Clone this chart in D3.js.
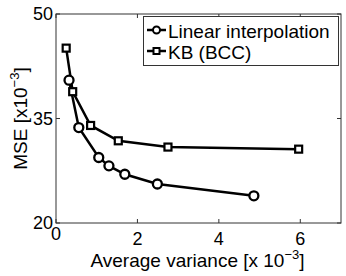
<!DOCTYPE html>
<html>
<head>
<meta charset="utf-8">
<script src="https://cdn.jsdelivr.net/npm/d3@7"></script>
<style>
  body { margin: 0; background: #fff; }
  svg { display: block; font-family: "Liberation Sans", Arial, sans-serif; }
</style>
</head>
<body>
<div id="container"></div>
<script>
// values (x in 1e-3, y in 1e-3)
var linX = [0.32, 0.56, 1.05, 1.30, 1.69, 2.49, 4.86];
var linY = [40.5, 33.7, 29.4, 28.2, 27.0, 25.6, 23.9];
var kbX = [0.25, 0.41, 0.85, 1.53, 2.75, 5.96];
var kbY = [45.1, 38.85, 34.0, 31.8, 30.9, 30.6];
var xTicks = [0, 2, 4, 6];
var yTicks = [20, 35, 50];
var seriesNames = ["Linear interpolation", "KB (BCC)"];

var width = 346, height = 276;
var margin = {left: 56, right: 5, top: 14, bottom: 53};

var svg = d3.select("#container").append("svg")
    .attr("width", width)
    .attr("height", height);

var x = d3.scaleLinear().domain([0, 7]).range([margin.left, width - margin.right]);
var y = d3.scaleLinear().domain([20, 50]).range([height - margin.bottom, margin.top]);

// box
svg.append("rect")
    .attr("x", x(0)).attr("y", y(50))
    .attr("width", x(7) - x(0)).attr("height", y(20) - y(50))
    .attr("fill", "none").attr("stroke", "#333").attr("stroke-width", 1);

// ticks (inside, mirrored)
var tk = 4;
var tickG = svg.append("g").attr("stroke", "#333").attr("stroke-width", 1);
xTicks.forEach(function (t) {
    tickG.append("line").attr("x1", x(t)).attr("x2", x(t)).attr("y1", y(20)).attr("y2", y(20) - tk);
    tickG.append("line").attr("x1", x(t)).attr("x2", x(t)).attr("y1", y(50)).attr("y2", y(50) + tk);
});
yTicks.forEach(function (t) {
    tickG.append("line").attr("x1", x(0)).attr("x2", x(0) + tk).attr("y1", y(t)).attr("y2", y(t));
    tickG.append("line").attr("x1", x(7)).attr("x2", x(7) - tk).attr("y1", y(t)).attr("y2", y(t));
});

svg.append("g").selectAll("text")
    .data(xTicks)
    .join("text")
    .attr("x", d => x(d))
    .attr("y", d => d == 0 ? 240 : 245)
    .attr("text-anchor", "middle")
    .attr("font-size", 18)
    .text(d => d);

svg.append("g").selectAll("text")
    .data(yTicks)
    .join("text")
    .attr("x", x(0) - 3)
    .attr("y", d => y(d) + 6)
    .attr("text-anchor", "end")
    .attr("font-size", 18)
    .text(d => d);

// axis labels
var xl = svg.append("text")
    .attr("x", (x(0) + x(7)) / 2 - 1)
    .attr("y", 267)
    .attr("text-anchor", "middle")
    .attr("font-size", 19);
xl.append("tspan").text("Average variance [x 10");
xl.append("tspan").attr("font-size", 13).attr("dy", -8).text("\u22123");
xl.append("tspan").attr("dy", 8).text("]");

var yl = svg.append("text")
    .attr("transform", "translate(27," + ((y(20) + y(50)) / 2) + ") rotate(-90)")
    .attr("text-anchor", "middle")
    .attr("font-size", 19);
yl.append("tspan").text("MSE [x10");
yl.append("tspan").attr("font-size", 13).attr("dy", -8).text("\u22123");
yl.append("tspan").attr("dy", 8).text("]");

var line = d3.line().x(d => x(d[0])).y(d => y(d[1]));
var linData = linX.map((v, i) => [v, linY[i]]);
var kbData = kbX.map((v, i) => [v, kbY[i]]);

svg.append("path").datum(kbData).attr("d", line)
    .attr("fill", "none").attr("stroke", "#000").attr("stroke-width", 2.5);
svg.append("path").datum(linData).attr("d", line)
    .attr("fill", "none").attr("stroke", "#000").attr("stroke-width", 2.5);

svg.append("g").selectAll("rect")
    .data(kbData)
    .join("rect")
    .attr("x", d => x(d[0]) - 3.5)
    .attr("y", d => y(d[1]) - 3.5)
    .attr("width", 7).attr("height", 7)
    .attr("fill", "#fff").attr("stroke", "#000").attr("stroke-width", 2.2);

svg.append("g").selectAll("circle")
    .data(linData)
    .join("circle")
    .attr("cx", d => x(d[0]))
    .attr("cy", d => y(d[1]))
    .attr("r", 4.5)
    .attr("fill", "#fff").attr("stroke", "#000").attr("stroke-width", 2.3);

// legend
var lg = svg.append("g");
lg.append("rect")
    .attr("x", 143.5).attr("y", 16.5)
    .attr("width", 195).attr("height", 49)
    .attr("fill", "#fff").attr("stroke", "#333").attr("stroke-width", 1);
seriesNames.forEach(function (name, i) {
    var cy = 30 + i * 21;
    lg.append("line").attr("x1", 147).attr("x2", 166).attr("y1", cy).attr("y2", cy)
        .attr("stroke", "#000").attr("stroke-width", 2.5);
    if (i == 0) {
        lg.append("circle").attr("cx", 156.5).attr("cy", cy).attr("r", 3.5)
            .attr("fill", "#fff").attr("stroke", "#000").attr("stroke-width", 2);
    } else {
        lg.append("rect").attr("x", 153.5).attr("y", cy - 3).attr("width", 6).attr("height", 6)
            .attr("fill", "#fff").attr("stroke", "#000").attr("stroke-width", 2);
    }
    lg.append("text").attr("x", 168).attr("y", cy + 7.5)
        .attr("font-size", 19)
        .text(name);
});
</script>
</body>
</html>
